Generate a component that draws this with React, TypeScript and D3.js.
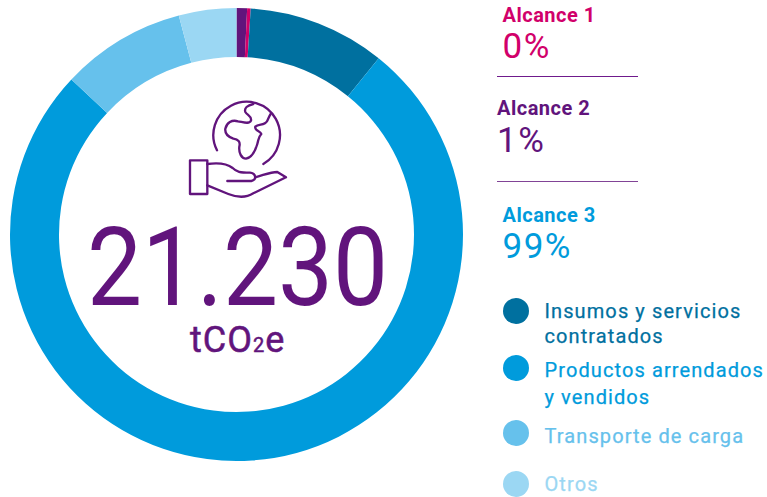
import React from "react";
import * as d3 from "d3";

const sliceNames = ["Alcance 2", "Alcance 1", "Insumos y servicios contratados", "Productos arrendados y vendidos", "Transporte de carga", "Otros"];
const sliceValues = [0.75, 0.25, 9.8, 76.2, 8.9, 4.1];
const sliceColors = ["#61147c", "#d1006a", "#00709f", "#009bdc", "#66c1ec", "#9bd7f3"];
const scopeLabels = ["Alcance 1", "Alcance 2", "Alcance 3"];
const scopeValues = ["0%", "1%", "99%"];
const scopeColors = ["#d1006a", "#61147c", "#009bdc"];
const legendLines = [["Insumos y servicios", "contratados"], ["Productos arrendados", "y vendidos"], ["Transporte de carga"], ["Otros"]];
const legendColors = ["#00709f", "#009bdc", "#66c1ec", "#9bd7f3"];

const FONT = "Roboto, sans-serif";
const scopeLayout = [{ x: 502.5, a: 22, b: 58 }, { x: 497, a: 115, b: 152 }, { x: 502.5, a: 222, b: 258 }];
const legendLayout = [{ cy: 311, base: [318, 343] }, { cy: 368, base: [377, 404] }, { cy: 433, base: [443] }, { cy: 484, base: [491] }];

export default function App() {
  const pie = d3.pie<number>().sort(null)(sliceValues);
  const arc = d3.arc<d3.PieArcDatum<number>>().innerRadius(177.5).outerRadius(226.5);
  return (
    <svg width={767} height={497} style={{ position: "absolute", left: 0, top: 0, fontFamily: FONT }}>
      <g transform="translate(236.5,234.5)">
        {pie.map((d, i) => (
          <path key={sliceNames[i]} d={arc(d) || ""} fill={sliceColors[i]} />
        ))}
      </g>
      <g transform="translate(170,0) scale(0.3333)" fill="none" stroke="#61147c" strokeWidth={7} strokeLinejoin="round" strokeLinecap="round">
        <path d="M141,451 A100,100 0 1 1 280,492" />
        <path d="M250,312 C232,316 222,324 226,336 C232,346 246,348 243,362 C238,374 218,366 204,364 C186,358 170,368 166,386 C164,402 172,410 190,416 C204,418 212,424 208,440 C206,458 214,476 228,476 C246,474 256,452 262,432 C266,420 264,412 274,402 C272,392 252,392 256,380 C266,370 284,378 292,362 C296,354 298,348 302,342" />
        <rect x={60} y={481} width={52} height={101} />
        <path d="M112,492 C140,488 170,490 188,504 C200,516 210,518 240,518 C258,520 262,540 244,543 L172,543" />
        <path d="M255,532 C280,526 300,516 322,516 L348,532 L250,580 C225,596 200,592 175,582 L112,556" />
      </g>
      <text x={87} y={305} fontSize={110} fill="#61147c" textLength={301} lengthAdjust="spacingAndGlyphs">21.230</text>
      <text x={190} y={352} fontSize={36} fill="#61147c" letterSpacing={1} stroke="#61147c" strokeWidth={0.5}>tCO<tspan fontSize={20}>2</tspan>e</text>
      {scopeLabels.map((s, i) => (
        <g key={s} fill={scopeColors[i]}>
          <text x={scopeLayout[i].x} y={scopeLayout[i].a} fontSize={20} fontWeight={700} letterSpacing={0.5}>{s}</text>
          <text x={scopeLayout[i].x} y={scopeLayout[i].b} fontSize={35} letterSpacing={1.5}>{scopeValues[i]}</text>
        </g>
      ))}
      <line x1={497} x2={638} y1={76.5} y2={76.5} stroke="#6f1a8c" />
      <line x1={497} x2={638} y1={181.5} y2={181.5} stroke="#61147c" strokeOpacity={0.8} />
      {legendLines.map((lines, i) => (
        <g key={lines[0]} fill={legendColors[i]}>
          <circle cx={516} cy={legendLayout[i].cy} r={13} />
          {lines.map((t, j) => (
            <text key={t} x={544.5} y={legendLayout[i].base[j]} fontSize={20} letterSpacing={1.1} stroke={legendColors[i]} strokeWidth={0.25}>{t}</text>
          ))}
        </g>
      ))}
    </svg>
  );
}
